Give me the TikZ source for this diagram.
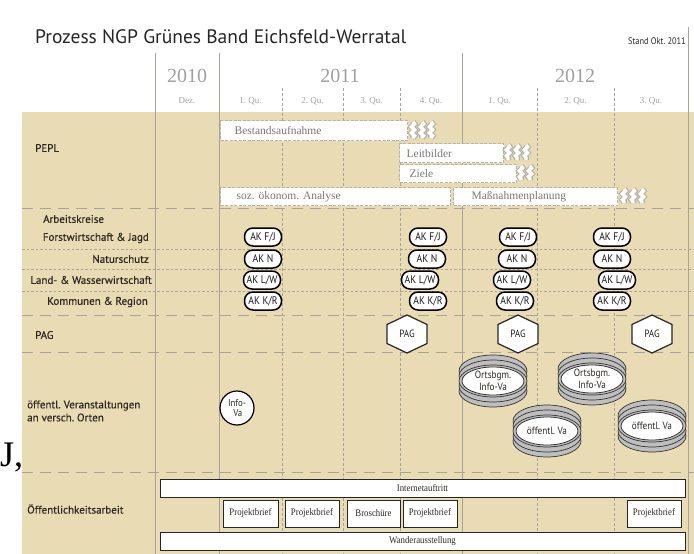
\documentclass[tikz,border=0pt]{standalone}
\usepackage{fontspec}
\setmainfont{Liberation Serif}
\newfontfamily\labfont{PT Sans}[FakeBold=0.4]
\newfontfamily\titlefont{PT Sans}
\newfontfamily\condfont{PT Sans}[FakeStretch=0.88]
\newfontfamily\cserif{Liberation Serif}[FakeStretch=0.88]
\usetikzlibrary{decorations.pathmorphing}
\definecolor{tanbg}{RGB}{233,219,179}
\definecolor{gridgray}{RGB}{168,162,152}
\definecolor{hdrgray}{RGB}{160,160,160}
\definecolor{bartxt}{RGB}{120,120,120}
\definecolor{labtxt}{RGB}{45,40,35}
\definecolor{discgray}{RGB}{190,190,190}
\definecolor{bardash}{RGB}{185,180,170}
\tikzset{
 solidv/.style={draw=gridgray, line width=0.8pt},
 dashv/.style={draw=gridgray, line width=0.8pt, dash pattern=on 2.5pt off 2.5pt},
 longh/.style={draw=gridgray, line width=0.8pt, dash pattern=on 11pt off 7pt},
 shorth/.style={draw=gridgray, line width=0.7pt, dash pattern=on 2.5pt off 2pt},
 rowlab/.style={font=\labfont\fontsize{11}{13}\selectfont, text=labtxt, inner sep=0pt},
 yearlab/.style={font=\fontsize{20}{20}\selectfont, text=hdrgray, inner sep=0pt},
 qlab/.style={font=\fontsize{9}{10}\selectfont, text=hdrgray, inner sep=0pt},
 pbar/.style={draw=bardash, line width=1.3pt, dash pattern=on 3pt off 1.5pt, fill=white, align=left, font=\fontsize{11.5}{12}\selectfont, text=bartxt, anchor=north west, inner ysep=0pt},
 akbox/.style={draw=black, line width=1.5pt, fill=white, rounded corners=8.5pt, minimum height=18pt, minimum width=37pt, inner xsep=3pt, inner ysep=0pt, font=\condfont\fontsize{11}{11}\selectfont, text=black!90},
 hexline/.style={draw=black!85, line width=1.2pt, fill=white},
 pagt/.style={font=\condfont\fontsize{10.5}{11}\selectfont, text=black!85, inner sep=0pt},
 discring/.style={draw=black!80, line width=0.7pt, fill=discgray},
 discface/.style={draw=black!80, line width=0.8pt, fill=white},
 disct/.style={font=\condfont\fontsize{10.5}{12}\selectfont, text=labtxt, align=center, inner sep=0pt},
 obox/.style={draw=black!85, line width=0.8pt, fill=white, inner sep=0pt, font=\cserif\fontsize{10}{11}\selectfont, text=labtxt},
 wavyg/.style={draw=bardash, line width=6pt, decorate, decoration={snake, amplitude=1.5pt, segment length=6pt}},
 wavyw/.style={draw=white, line width=3.4pt, decorate, decoration={snake, amplitude=1.5pt, segment length=6pt}},
}
\newcommand\wavyend[4]{%
 \foreach \k in {1,...,#4}{%
  \draw[wavyg] (#1+\k*9-5,#2+2) -- (#1+\k*9-5,#3-2);
  \draw[wavyw] (#1+\k*9-5,#2+2) -- (#1+\k*9-5,#3-2);
 }}
\newcommand\hexat[3]{%
 \draw[hexline] (#1,#2) ++(0,-19) -- ++(20,9.5) -- ++(0,19) -- ++(-20,9.5) -- ++(-20,-9.5) -- ++(0,-19) -- cycle;
 \node[pagt] (#3) at (#1,#2) {PAG};}
\newcommand\discat[4]{%
 \foreach \k in {-10,-5,10,5,0}{\draw[discring] (#1,#2+\k) ellipse [x radius=34pt, y radius=16pt];}
 \draw[discface] (#1,#2) ellipse [x radius=31pt, y radius=14pt];
 \node[disct] (#3) at (#1,#2) {#4};}
\frenchspacing
\begin{document}
\begin{tikzpicture}[x=1pt,y=-1pt]
\useasboundingbox[fill=white] (0,0) rectangle (694,554);
% background
\fill[tanbg] (22,112) rectangle (694,554);
% vertical grid
\foreach \xx in {155,219,462}{\draw[solidv] (\xx,53) -- (\xx,554);}
\draw[solidv] (688,27) -- (688,554);
\foreach \xx in {282,343,400,537,614}{\draw[dashv] (\xx,88) -- (\xx,554);}
% horizontal separators
\foreach \yy in {208,315,352,472}{\draw[longh] (22,\yy) -- (694,\yy);}
\foreach \yy in {249,269,291}{\draw[shorth] (22,\yy) -- (694,\yy);}
% header
\node[anchor=base west, inner sep=0pt, font=\titlefont\fontsize{19.5}{20}\selectfont, text=black!85] (title) at (35,43) {Prozess NGP Grünes Band Eichsfeld-Werratal};
\node[anchor=base east, inner sep=0pt, font=\condfont\fontsize{9.5}{10}\selectfont, text=black!85] (stand) at (686,44) {Stand Okt. 2011};
\node[yearlab] (y2010) at (187,76) {2010};
\node[yearlab] (y2011) at (340,76) {2011};
\node[yearlab] (y2012) at (575,76) {2012};
\node[qlab] (qdez) at (187,101) {Dez.};
\node[qlab] (q11a) at (250.5,101) {1. Qu.};
\node[qlab] (q11b) at (312.5,101) {2. Qu.};
\node[qlab] (q11c) at (371.5,101) {3. Qu.};
\node[qlab] (q11d) at (431,101) {4. Qu.};
\node[qlab] (q12a) at (499.5,101) {1. Qu.};
\node[qlab] (q12b) at (575.5,101) {2. Qu.};
\node[qlab] (q12c) at (651,101) {3. Qu.};
% row labels
\node[rowlab, anchor=west] (lpepl) at (35,148) {PEPL};
\node[rowlab, anchor=west] (lak) at (43,219) {Arbeitskreise};
\node[rowlab, anchor=east] (lfj) at (149,238) {Forstwirtschaft \& Jagd};
\node[rowlab, anchor=east] (ln) at (149,259) {Naturschutz};
\node[rowlab, anchor=east] (llw) at (152,280) {Land- \& Wasserwirtschaft};
\node[rowlab, anchor=east] (lkr) at (148,302) {Kommunen \& Region};
\node[rowlab, anchor=west] (lpag) at (35,335) {PAG};
\node[rowlab, anchor=west, align=left] (lver) at (27,411) {öffentl. Veranstaltungen\\an versch. Orten};
\node[rowlab, anchor=west] (loef) at (27,509) {Öffentlichkeitsarbeit};
% PEPL bars
\node[pbar, inner xsep=14pt, text width=159pt, minimum height=20pt] (bestand) at (220,120) {Bestandsaufnahme};
\node[pbar, inner xsep=7pt, text width=90pt, minimum height=19pt] (leit) at (399,143) {Leitbilder};
\node[pbar, inner xsep=10pt, text width=97pt, minimum height=18pt] (ziele) at (399,164) {Ziele};
\node[pbar, inner xsep=16pt, text width=198pt, minimum height=18pt] (soz) at (220,187) {soz. ökonom. Analyse};
\node[pbar, inner xsep=18pt, text width=128pt, minimum height=18pt] (mass) at (453,187) {Maßnahmenplanung};
\wavyend{409}{120}{140}{3}
\wavyend{504}{143}{162}{3}
\wavyend{517}{164}{182}{2}
\wavyend{620}{187}{205}{3}
% Arbeitskreise
\node[akbox] (fj1) at (263,237) {AK F/J};
\node[akbox] (n1) at (263,259) {AK N};
\node[akbox] (lw1) at (262,280) {AK L/W};
\node[akbox] (kr1) at (263,301) {AK K/R};
\node[akbox] (fj2) at (428,237) {AK F/J};
\node[akbox] (n2) at (427,259) {AK N};
\node[akbox] (lw2) at (420,280) {AK L/W};
\node[akbox] (kr2) at (428,301) {AK K/R};
\node[akbox] (fj3) at (518,237) {AK F/J};
\node[akbox] (n3) at (517,259) {AK N};
\node[akbox] (lw3) at (512,280) {AK L/W};
\node[akbox] (kr3) at (515,301) {AK K/R};
\node[akbox] (fj4) at (612,237) {AK F/J};
\node[akbox] (n4) at (612,259) {AK N};
\node[akbox] (lw4) at (617,280) {AK L/W};
\node[akbox] (kr4) at (612,301) {AK K/R};
% PAG
\hexat{407}{334}{pag1}
\hexat{518}{334}{pag2}
\hexat{652}{334}{pag3}
% Veranstaltungen
\node[circle, draw=black, line width=1.2pt, fill=white, minimum size=34pt, align=center, font=\condfont\fontsize{10}{10.5}\selectfont, text=labtxt, inner sep=0pt] (infova) at (237,408) {Info-\\\,Va};
\discat{493}{381}{d1}{Ortsbgm.\\Info-Va}
\discat{592}{379}{d2}{Ortsbgm.\\Info-Va}
\discat{547}{431}{d3}{öffentl. Va}
\discat{652}{426}{d4}{öffentl. Va}
% Oeffentlichkeitsarbeit
\node[obox, minimum width=525pt, minimum height=18pt] (inet) at (422.5,488) {Internetauftritt};
\node[obox, minimum width=55pt, minimum height=27pt] (pb1) at (250.5,513.5) {Projektbrief};
\node[obox, minimum width=54pt, minimum height=27pt] (pb2) at (312,513.5) {Projektbrief};
\node[obox, minimum width=53pt, minimum height=27pt] (bro) at (373.5,513.5) {Broschüre};
\node[obox, minimum width=54pt, minimum height=27pt] (pb3) at (430,513.5) {Projektbrief};
\node[obox, minimum width=54pt, minimum height=27pt] (pb4) at (654,513.5) {Projektbrief};
\node[obox, minimum width=525pt, minimum height=18pt] (wander) at (422.5,541) {Wanderausstellung};
% fragment at left edge
\node[anchor=base west, inner sep=0pt, font=\fontsize{36}{36}\selectfont] (jfrag) at (0,466) {J,};
\end{tikzpicture}
\end{document}
